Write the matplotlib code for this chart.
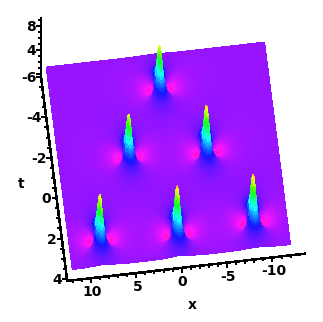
import numpy as np
import matplotlib
matplotlib.use('Agg')
import matplotlib.pyplot as plt
from matplotlib.collections import PolyCollection
from matplotlib.colors import hsv_to_rgb

# lump centres and heights
peak_x = [0.0, 4.3, -4.2, 8.6, 0.1, -8.3]
peak_t = [-4.4, -1.25, -1.05, 2.65, 2.75, 2.6]
peak_h = [6.9, 6.8, 7.5, 7.3, 7.6, 7.6]
background = 1.0
x_ticks = [10, 5, 0, -5, -10]
t_ticks = [-6, -4, -2, 0, 2, 4]
z_ticks = [4, 8]
font = 'DejaVu Sans'


def project(x, t, z):
    px = 171 - 9.08*np.asarray(x) + 2.6*np.asarray(t)
    py = 176 + 1.04*np.asarray(x) + 20.2*np.asarray(t) - 6.0*(np.asarray(z) - background)
    return px, py


def surface(x, t):
    u = np.full(x.shape, background)
    a2 = 0.62**2
    for x0, t0, h in zip(peak_x, peak_t, peak_h):
        X2 = (x - x0)**2
        T2 = (2.0*(t - t0))**2
        # damped so the far field stays flat like the reference
        u += h*a2*(a2 - X2 + T2)/(a2 + X2 + T2)**2*np.exp(-(X2 + T2)/14.0)
    return u


xs = np.arange(-12, 12.001, 0.1)
ts = np.arange(-6, 4.001, 0.05)
xx, tt = np.meshgrid(xs, ts)
zz = surface(xx, tt)
px, py = project(xx, tt, zz)

quads = np.stack([
    np.stack([px[:-1, :-1], py[:-1, :-1]], -1),
    np.stack([px[:-1, 1:], py[:-1, 1:]], -1),
    np.stack([px[1:, 1:], py[1:, 1:]], -1),
    np.stack([px[1:, :-1], py[1:, :-1]], -1)], axis=2).reshape(-1, 4, 2)
zc = (zz[:-1, :-1] + zz[:-1, 1:] + zz[1:, 1:] + zz[1:, :-1]).ravel()/4
xc = (xx[:-1, :-1] + xx[1:, 1:]).ravel()/2
tc = (tt[:-1, :-1] + tt[1:, 1:]).ravel()/2
depth = project(xc, tc, background)[1]
order = np.argsort(depth)

# violet background, magenta in the dips, blue to orange going up the peaks
hue = np.where(zc > background, 0.76 - 0.088*(zc - background), 0.76 + 0.13*(background - zc))
hue = np.clip(hue, 0.04, 0.88)
rgb = hsv_to_rgb(np.stack([hue, np.full(hue.shape, 0.92), np.ones(hue.shape)], -1))

fig = plt.figure(figsize=(3.23, 3.22), dpi=100)
ax = fig.add_axes([0, 0, 1, 1])
ax.set_xlim(0, 323)
ax.set_ylim(322, 0)
ax.axis('off')
ax.add_collection(PolyCollection(quads[order], facecolors=rgb[order], edgecolors=rgb[order],
                                 linewidths=0.3, antialiased=False))


def line(x, t, z):
    a, b = project(x, t, z)
    ax.plot(a, b, color='k', lw=1.1, antialiased=False, solid_capstyle='butt')


# frame lines
xa_t, xa_z = 4.1, -0.5
ta_x = 12.6
line([12.6, -13.6], [xa_t, xa_t], [xa_z, xa_z])
line([ta_x, ta_x], [-6, xa_t], [xa_z, xa_z])
line([ta_x, ta_x], [-6, -6], [xa_z, 9.5])

for v in np.arange(-12, 13):
    a, b = project(v, xa_t, xa_z)
    n = 4 if v % 5 == 0 else 2
    ax.plot([a, a], [b, b + n], color='k', lw=1.1, antialiased=False)
for v in np.arange(-6, 4.01, 0.5):
    a, b = project(ta_x, v, xa_z)
    n = 4 if v % 2 == 0 else 2
    ax.plot([a - n, a], [b, b], color='k', lw=1.1, antialiased=False)
for v in np.arange(0, 10):
    a, b = project(ta_x, -6, v)
    n = 4 if v % 4 == 0 else 2
    ax.plot([a - n, a], [b, b], color='k', lw=1.1, antialiased=False)

tp = dict(family=font, weight='bold', fontsize=10, color='k', ha='center', va='center')
for v in x_ticks:
    a, b = project(v, xa_t, xa_z)
    ax.text(a + 1, b + 14, str(v), **tp)
for v in t_ticks:
    a, b = project(ta_x, v, xa_z)
    ax.text(a - (12 if v < 0 else 10), b + 1, str(v), **tp)
for v in z_ticks:
    a, b = project(ta_x, -6, v)
    ax.text(a - 10, b + 1, str(v), **tp)
ax.text(21, 184, 't', **tp)
ax.text(192, 305, 'x', **tp)

fig.savefig('out.png', dpi=100)
